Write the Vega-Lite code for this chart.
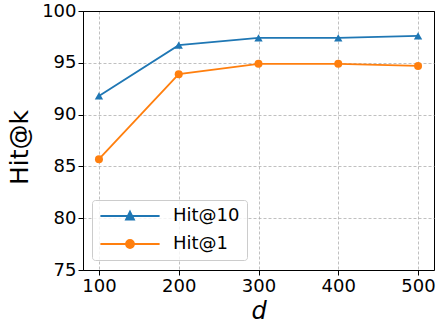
{
  "$schema": "https://vega.github.io/schema/vega-lite/v6.json",
  "width": 351,
  "height": 259,
  "autosize": {"type": "none"},
  "padding": {"left": 83, "top": 11, "right": 2, "bottom": 55},
  "background": "white",
  "config": {
    "font": "DejaVu Sans",
    "view": {"stroke": "black", "strokeWidth": 1},
    "axis": {
      "labelFont": "DejaVu Sans",
      "labelFontSize": 18,
      "labelColor": "black",
      "domainColor": "black",
      "tickColor": "black",
      "tickSize": 5,
      "labelPadding": 2,
      "grid": true,
      "gridColor": "#b0b0b0",
      "gridDash": [3, 2],
      "gridWidth": 0.8,
      "titleFont": "DejaVu Sans",
      "titleFontWeight": "normal",
      "titleColor": "black"
    }
  },
  "data": {
    "values": [
      {"d": 100, "metric": "Hit@10", "value": 91.8},
      {"d": 200, "metric": "Hit@10", "value": 96.7},
      {"d": 300, "metric": "Hit@10", "value": 97.4},
      {"d": 400, "metric": "Hit@10", "value": 97.4},
      {"d": 500, "metric": "Hit@10", "value": 97.6},
      {"d": 100, "metric": "Hit@1", "value": 85.7},
      {"d": 200, "metric": "Hit@1", "value": 93.9},
      {"d": 300, "metric": "Hit@1", "value": 94.9},
      {"d": 400, "metric": "Hit@1", "value": 94.9},
      {"d": 500, "metric": "Hit@1", "value": 94.7}
    ]
  },
  "encoding": {
    "x": {
      "field": "d",
      "type": "quantitative",
      "scale": {"domain": [80, 520], "nice": false, "zero": false},
      "axis": {
        "values": [100, 200, 300, 400, 500],
        "format": "d",
        "title": "d",
        "titleFontSize": 24,
        "titleFontStyle": "italic",
        "titlePadding": 4
      }
    },
    "y": {
      "field": "value",
      "type": "quantitative",
      "scale": {"domain": [75, 100], "nice": false, "zero": false},
      "axis": {
        "values": [75, 80, 85, 90, 95, 100],
        "title": "Hit@k",
        "titleFontSize": 25,
        "titleX": -56,
        "titleY": 136,
        "titleBaseline": "alphabetic",
        "titleAlign": "center",
        "titleAngle": 270,
        "gridColor": {"condition": {"test": "datum.value >= 100", "value": "black"}, "value": "#b0b0b0"},
        "gridDash": {"condition": {"test": "datum.value >= 100", "value": []}, "value": [3, 2]},
        "gridWidth": {"condition": {"test": "datum.value >= 100", "value": 1}, "value": 0.8}
      }
    },
    "color": {
      "field": "metric",
      "type": "nominal",
      "scale": {"domain": ["Hit@10", "Hit@1"], "range": ["#1f77b4", "#ff7f0e"]},
      "legend": {
        "title": null,
        "orient": "none",
        "legendX": 9,
        "legendY": 189,
        "padding": 7,
        "fillColor": "rgba(255,255,255,0.8)",
        "strokeColor": "#cccccc",
        "cornerRadius": 3,
        "labelFont": "DejaVu Sans",
        "labelFontSize": 18,
        "labelColor": "black",
        "symbolSize": 64,
        "symbolOffset": 22,
        "labelOffset": 34,
        "rowPadding": 10,
        "symbolStrokeWidth": 1.8,
        "symbolOpacity": 1,
        "encode": {
          "symbols": {
            "update": {
              "fill": {"scale": "color", "field": "value"},
              "stroke": {"scale": "color", "field": "value"},
              "strokeWidth": {"value": 1.8},
              "opacity": {"value": 1}
            }
          }
        }
      }
    }
  },
  "layer": [
    {
      "mark": {"type": "line", "strokeWidth": 1.8}
    },
    {
      "transform": [{"filter": "datum.metric === 'Hit@10'"}],
      "mark": {"type": "point", "filled": true, "size": 70, "opacity": 1, "shape": "triangle-up"}
    },
    {
      "transform": [{"filter": "datum.metric === 'Hit@1'"}],
      "mark": {"type": "point", "filled": true, "size": 64, "opacity": 1, "shape": "circle"}
    },
    {
      "transform": [{"filter": "datum.d < 0"}],
      "mark": {"type": "point", "filled": true, "opacity": 1},
      "encoding": {
        "shape": {
          "field": "metric",
          "type": "nominal",
          "scale": {
            "domain": ["Hit@10", "Hit@1"],
            "range": ["M-7.4,0H7.4M0,-1.1L1,0.9L-1,0.9Z", "M-7.4,0H7.4M1,0A1,1,0,1,1,-1,0A1,1,0,1,1,1,0Z"]
          }
        }
      }
    }
  ]
}
